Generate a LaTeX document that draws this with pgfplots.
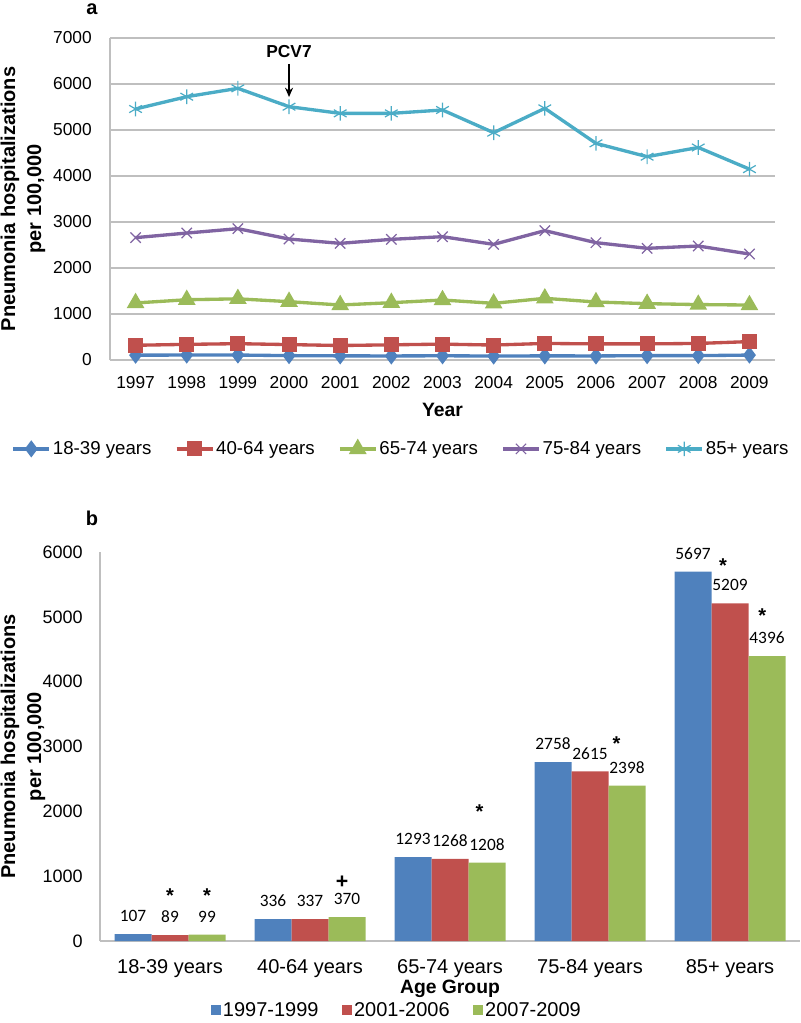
\documentclass[border=0pt]{standalone}
\usepackage{pgfplots}
\pgfplotsset{compat=1.18}
\usepackage{fontspec}
\setmainfont{Liberation Sans}
\newfontfamily\calib{Carlito}
\usetikzlibrary{arrows.meta}
\definecolor{cblue}{HTML}{4F81BD}
\definecolor{cred}{HTML}{C0504D}
\definecolor{cgreen}{HTML}{9BBB59}
\definecolor{cpurple}{HTML}{8064A2}
\definecolor{caqua}{HTML}{4BACC6}
\definecolor{cgrid}{HTML}{BFBFBF}
\begin{document}
\begin{tikzpicture}
\useasboundingbox (0,0) rectangle (600pt,-767.25pt);
\node[font=\bfseries\fontsize{15}{18}\selectfont] at (69pt,-7pt) {a};
\begin{axis}[
  at={(82.5pt,-270pt)}, anchor=south west, scale only axis,
  width=498.75pt, height=241.5pt,
  xmin=1996.5, xmax=2009.5, ymin=0, ymax=7000,
  xtick={1997,...,2009}, ytick={0,1000,...,7000},
  ymajorgrids, grid style={draw=cgrid, line width=0.9pt},
  axis x line*=bottom, axis y line*=left,
  axis line style={draw=cgrid, line width=0.9pt, -},
  major tick length=0pt,
  /pgf/number format/1000 sep={}, /pgf/number format/assume math mode=true,
  tick label style={font=\fontsize{13}{15}\selectfont, inner sep=0pt},
  xticklabel style={yshift=-12pt},
  yticklabel style={xshift=-13.5pt},
  xlabel={Year},
  xlabel style={font=\bfseries\fontsize{14.5}{17}\selectfont, at={(axis description cs:0.5,-0.155)}, anchor=center},
  ylabel={Pneumonia hospitalizations\\per 100,000},
  ylabel style={font=\bfseries\fontsize{15}{19.5}\selectfont, align=center, at={(axis description cs:-0.131,0.5)}, anchor=center},
  legend style={at={(axis description cs:0.4376,-0.276)}, anchor=center, legend columns=5, draw=none, fill=none,
    font=\fontsize{14}{16}\selectfont, nodes={inner xsep=1.5pt},
    /tikz/every even column/.append style={column sep=16pt}},
  legend cell align=left,
  legend image code/.code={\draw[mark repeat=2,mark phase=2] plot coordinates {(0pt,0pt) (13.5pt,0pt) (27pt,0pt)};},
]
\addplot[cblue, line width=2.5pt, mark=diamond*, mark size=4.4pt, mark options={solid}] coordinates {
(1997,105) (1998,108) (1999,108) (2000,95) (2001,90) (2002,88) (2003,92) (2004,86) (2005,90) (2006,88) (2007,95) (2008,95) (2009,107)};
\addlegendentry{18-39 years}
\addplot[cred, line width=2.5pt, mark=square*, mark size=4.4pt, mark options={solid}] coordinates {
(1997,320) (1998,340) (1999,355) (2000,335) (2001,315) (2002,330) (2003,345) (2004,325) (2005,360) (2006,350) (2007,350) (2008,360) (2009,400)};
\addlegendentry{40-64 years}
\addplot[cgreen, line width=2.5pt, mark=triangle*, mark size=5.2pt, mark options={solid}] coordinates {
(1997,1240) (1998,1310) (1999,1330) (2000,1268) (2001,1196) (2002,1246) (2003,1304) (2004,1232) (2005,1341) (2006,1261) (2007,1225) (2008,1205) (2009,1195)};
\addlegendentry{65-74 years}
\addplot[cpurple, line width=2.5pt, mark=x, mark size=5.5pt, mark options={solid, line width=0.9pt}] coordinates {
(1997,2660) (1998,2760) (1999,2855) (2000,2630) (2001,2536) (2002,2623) (2003,2681) (2004,2514) (2005,2812) (2006,2551) (2007,2428) (2008,2478) (2009,2304)};
\addlegendentry{75-84 years}
\addplot[caqua, line width=2.5pt, mark=asterisk, mark size=5.5pt, mark options={solid, line width=0.9pt}] coordinates {
(1997,5457) (1998,5724) (1999,5906) (2000,5507) (2001,5362) (2002,5362) (2003,5435) (2004,4942) (2005,5471) (2006,4710) (2007,4420) (2008,4620) (2009,4150)};
\addlegendentry{85+ years}
\node[font=\bfseries\fontsize{13}{15}\selectfont] at (axis cs:2000,6696) {PCV7};
\draw[line width=1.5pt, -{Stealth[length=7pt,width=6pt]}] (axis cs:2000,6440) -- (axis cs:2000,5717);
\end{axis}

\node[font=\bfseries\fontsize{15}{18}\selectfont] at (69pt,-388.5pt) {b};
\begin{axis}[
  at={(75pt,-705.75pt)}, anchor=south west, scale only axis,
  width=525pt, height=291.75pt,
  ybar=0pt, bar width=27.75pt,
  xmin=-0.5, xmax=4.5, ymin=0, ymax=6000,
  xtick={0,...,4},
  xticklabels={18-39 years, 40-64 years, 65-74 years, 75-84 years, 85+ years},
  ytick={0,1000,...,6000},
  axis x line*=bottom, axis y line*=left,
  axis line style={draw=cgrid, line width=0.9pt, -},
  major tick length=0pt,
  /pgf/number format/1000 sep={}, /pgf/number format/assume math mode=true,
  tick label style={inner sep=0pt},
  xticklabel style={font=\fontsize{15}{17}\selectfont, yshift=-13.5pt},
  yticklabel style={font=\fontsize{13.5}{16}\selectfont, xshift=-12.75pt},
  xlabel={Age Group},
  xlabel style={font=\bfseries\fontsize{14.5}{17}\selectfont, at={(axis description cs:0.5,-0.124)}, anchor=center},
  ylabel={Pneumonia hospitalizations\\per 100,000},
  ylabel style={font=\bfseries\fontsize{15}{19.5}\selectfont, align=center, at={(axis description cs:-0.11,0.5)}, anchor=center},
  nodes near coords={\pgfmathprintnumber[1000 sep={}]{\pgfplotspointmeta}},
  every node near coord/.append style={font=\calib\fontsize{13}{15}\selectfont, inner sep=0pt, anchor=south, yshift=9pt, color=black},
  legend style={at={(axis description cs:0.424,-0.178)}, anchor=center, legend columns=3, draw=none, fill=none,
    font=\fontsize{15}{17}\selectfont, nodes={inner xsep=1.5pt, inner ysep=1pt},
    /tikz/every even column/.append style={column sep=16pt}},
  legend image code/.code={\fill (0pt,-3.8pt) rectangle (7.6pt,3.8pt);},
]
\addplot[fill=cblue, draw=none] coordinates {(0,107) (1,336) (2,1293) (3,2758) (4,5697)};
\addlegendentry{1997-1999}
\addplot[fill=cred, draw=none] coordinates {(0,89) (1,337) (2,1268) (3,2615) (4,5209)};
\addlegendentry{2001-2006}
\addplot[fill=cgreen, draw=none] coordinates {(0,99) (1,370) (2,1208) (3,2398) (4,4396)};
\addlegendentry{2007-2009}
\node[font=\bfseries\fontsize{15}{18}\selectfont, inner sep=0pt] at (axis cs:0,700) {*};
\node[font=\bfseries\fontsize{15}{18}\selectfont, inner sep=0pt] at (axis cs:0.264,700) {*};
\node[font=\bfseries\fontsize{16}{18}\selectfont, inner sep=0pt] at (axis cs:1.23,910) {+};
\node[font=\bfseries\fontsize{15}{18}\selectfont, inner sep=0pt] at (axis cs:2.21,2000) {*};
\node[font=\bfseries\fontsize{15}{18}\selectfont, inner sep=0pt] at (axis cs:3.19,3040) {*};
\node[font=\bfseries\fontsize{15}{18}\selectfont, inner sep=0pt] at (axis cs:3.95,5790) {*};
\node[font=\bfseries\fontsize{15}{18}\selectfont, inner sep=0pt] at (axis cs:4.23,5015) {*};
\end{axis}
\end{tikzpicture}
\end{document}
